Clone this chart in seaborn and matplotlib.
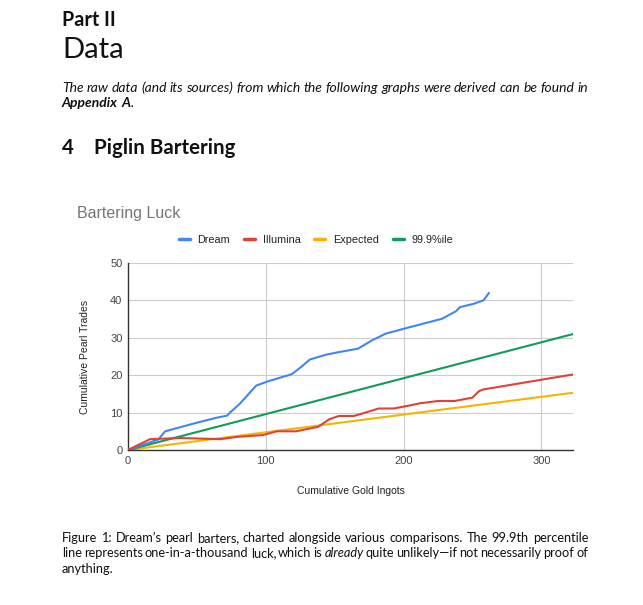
"""Bartering Luck page: document text plus the pearl/ingot line chart."""

import matplotlib
matplotlib.use("Agg")
import matplotlib.pyplot as plt
import matplotlib.transforms as mtransforms
from matplotlib.font_manager import FontProperties
from matplotlib.lines import Line2D
import pandas as pd
import seaborn as sns

# ── Data ──────────────────────────────────────────────────────────────
DREAM_INGOTS = [0, 22, 27, 50, 64, 72, 74, 81, 93, 101, 119, 126, 132, 144, 152,
                167, 177, 187, 200, 228, 238, 241, 251, 258, 262]
DREAM_PEARLS = [0, 2.8, 5, 7.3, 8.6, 9.2, 10, 12.3, 17.2, 18.3, 20.3, 22.3, 24.2,
                25.5, 26.1, 27.1, 29.3, 31.1, 32.4, 35.1, 37.1, 38.2, 39.1, 40, 42]

ILLUMINA_INGOTS = [0, 16, 38, 67, 79, 98, 108, 122, 138, 146, 153, 164, 174, 182,
                   193, 203, 212, 225, 237, 250, 255, 258, 323]
ILLUMINA_PEARLS = [0, 2.9, 3.2, 2.9, 3.5, 4.0, 5.0, 5.0, 6.2, 8.2, 9.1, 9.1, 10.2,
                   11.1, 11.1, 11.8, 12.5, 13.1, 13.1, 14, 15.8, 16.2, 20.2]

EXPECTED_INGOTS = [0, 323]
EXPECTED_PEARLS = [0, 15.3]

P999_INGOTS = [0, 323]
P999_PEARLS = [0, 31.0]

SERIES = ["Dream", "Illumina", "Expected", "99.9%ile"]
COLORS = {"Dream": "#4285f4", "Illumina": "#db4437",
          "Expected": "#f4b400", "99.9%ile": "#0f9d58"}

X_TICKS = [0, 100, 200, 300]
Y_TICKS = [0, 10, 20, 30, 40, 50]

# ── Theme ─────────────────────────────────────────────────────────────
W, H = 643, 605
BODY_FONT = ["Lato", "DejaVu Sans"]
CHART_FONT = ["Liberation Sans", "DejaVu Sans"]
INK = "#111111"

sns.set_theme(style="white")
plt.rcParams["font.family"] = CHART_FONT

fig = plt.figure(figsize=(W / 100, H / 100), dpi=100)
fig.patch.set_facecolor("white")
renderer = fig.canvas.get_renderer()
PX = mtransforms.IdentityTransform()


def text_width(s, size, style="normal", weight="normal"):
    prop = FontProperties(family=BODY_FONT, size=size, style=style, weight=weight)
    w, _, _ = renderer.get_text_width_height_descent(s, prop, ismath=False)
    return w


def put_words(x0, base, words, size, x1=None, color=INK):
    """Place a line of words (each a list of styled pieces) at image pixel coords.
    If x1 is given the line is justified to that right edge."""
    widths = [sum(text_width(t, size, st, wt) for t, st, wt in word) for word in words]
    gap = text_width("a a", size) - text_width("aa", size)
    if x1 is not None and len(words) > 1:
        gap = max((x1 - x0 - sum(widths)) / (len(words) - 1), 0.5 * gap)
    x = x0
    for word, wd in zip(words, widths):
        xx = x
        for text, style, weight in word:
            fig.text(xx, H - base, text, fontsize=size, style=style, weight=weight,
                     family=BODY_FONT, color=color, va="baseline", ha="left",
                     transform=PX)
            xx += text_width(text, size, style, weight)
        x += wd + gap


def plain(line, style="normal", weight="normal"):
    return [[(w, style, weight)] for w in line.split()]


# ── Page text ─────────────────────────────────────────────────────────
LEFT, RIGHT = 62, 588
BODY = 9.2
fig.text(LEFT / W, 1 - 25.7 / H, "Part II", fontsize=14.2, weight="bold",
         family=BODY_FONT, color=INK, va="baseline")
fig.text(LEFT / W, 1 - 58.3 / H, "Data", fontsize=21,
         family=BODY_FONT, color=INK, va="baseline")
put_words(LEFT, 92.3, plain("The raw data (and its sources) from which the following "
                            "graphs were derived can be found in", style="italic"),
          10.0, RIGHT)
put_words(LEFT, 107.3, [[("Appendix", "italic", "bold")],
                        [("A", "italic", "bold"), (".", "italic", "normal")]], 10.0)
fig.text(LEFT / W, 1 - 154 / H, "4", fontsize=14.8, weight="bold",
         family=BODY_FONT, color=INK, va="baseline")
fig.text(94 / W, 1 - 154 / H, "Piglin Bartering", fontsize=14.8, weight="bold",
         family=BODY_FONT, color=INK, va="baseline")

put_words(LEFT, 541.7, plain("Figure 1: Dream\u2019s pearl barters, charted alongside "
                             "various comparisons. The 99.9th percentile"), BODY, RIGHT)
put_words(LEFT, 557.3, plain("line represents one-in-a-thousand luck, which is")
          + [[("already", "italic", "normal")]]
          + plain("quite unlikely\u2014if not necessarily proof of"), BODY, RIGHT)
put_words(LEFT, 572.7, plain("anything."), BODY)

# ── Chart ─────────────────────────────────────────────────────────────
frames = []
for name, xs, ys in [("Dream", DREAM_INGOTS, DREAM_PEARLS),
                     ("Illumina", ILLUMINA_INGOTS, ILLUMINA_PEARLS),
                     ("Expected", EXPECTED_INGOTS, EXPECTED_PEARLS),
                     ("99.9%ile", P999_INGOTS, P999_PEARLS)]:
    frames.append(pd.DataFrame({"ingots": xs, "pearls": ys, "series": name}))
df = pd.concat(frames, ignore_index=True)

ax = fig.add_axes([128 / W, 1 - 450 / H, 445 / W, 187 / H])
ax.set_facecolor("white")
sns.lineplot(data=df, x="ingots", y="pearls", hue="series", hue_order=SERIES,
             palette=COLORS, sort=False, estimator=None, linewidth=1.5,
             legend=False, ax=ax)
# Dream/Illumina sit over the two straight reference lines
for line in ax.lines[:2]:
    line.set_zorder(3)

ax.set_xlim(0, 323)
ax.set_ylim(0, 50)
ax.set_xticks(X_TICKS)
ax.set_yticks(Y_TICKS)
ax.grid(True, color="#cccccc", linewidth=0.8)
ax.set_axisbelow(True)
for side in ["top", "right"]:
    ax.spines[side].set_visible(False)
for side in ["left", "bottom"]:
    ax.spines[side].set_color("#333333")
    ax.spines[side].set_linewidth(1.0)
ax.tick_params(axis="both", length=0, labelsize=8, labelcolor="#444444", pad=4)

ax.set_xlabel("Cumulative Gold Ingots", fontsize=7.5, color="#222222")
ax.set_ylabel("Cumulative Pearl Trades", fontsize=7.5, color="#222222")
ax.xaxis.set_label_coords(0.5, -0.19)
ax.yaxis.set_label_coords(-0.085, 0.5)

fig.text(77 / W, 1 - 218 / H, "Bartering Luck", fontsize=11.5, color="#757575",
         va="baseline")

handles = [Line2D([], [], color=COLORS[s], linewidth=2.5) for s in SERIES]
fig.legend(handles, SERIES, loc="center", bbox_to_anchor=(316 / W, 1 - 240 / H),
           ncol=4, frameon=False, fontsize=7.8, handlelength=1.0,
           handletextpad=0.7, columnspacing=1.3, labelcolor="#222222")

fig.savefig("out.png", dpi=100, facecolor="white")
plt.close(fig)
